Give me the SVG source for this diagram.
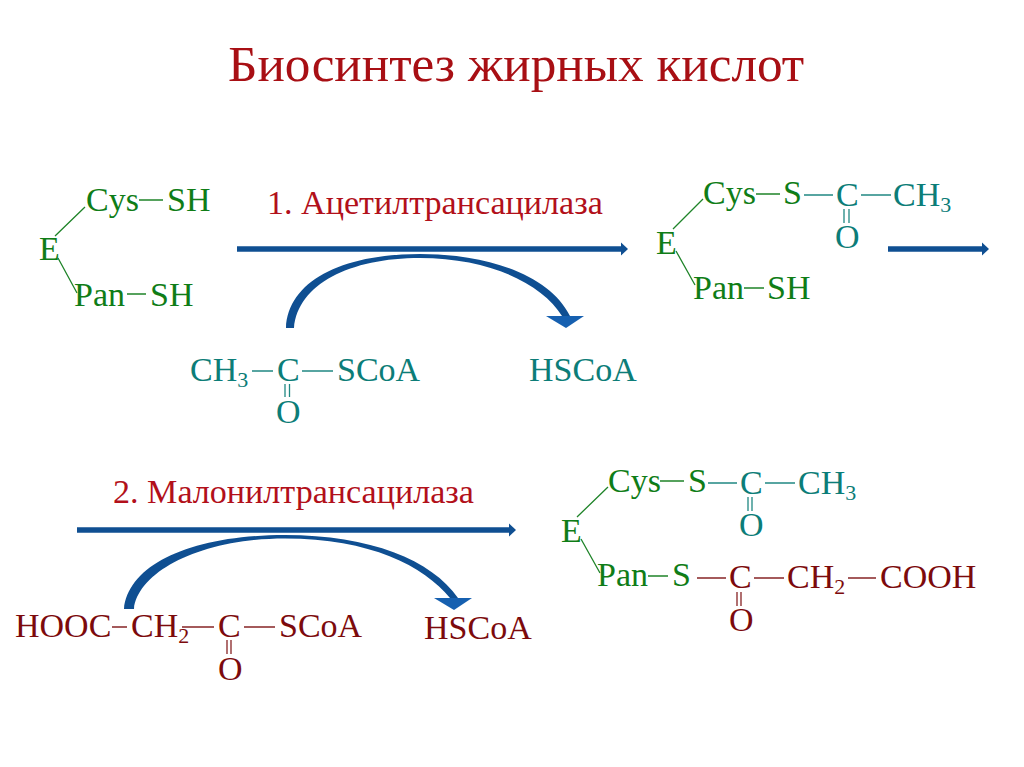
<svg xmlns="http://www.w3.org/2000/svg" width="1024" height="767" viewBox="0 0 1024 767">
<defs>
<marker id="tip" markerUnits="userSpaceOnUse" markerWidth="10" markerHeight="14" refX="1" refY="7" orient="auto"><path d="M1 0.500L8 7L1 13.500Z" fill="#0f4f92"/></marker>
</defs>
<style>
text{font-family:"Liberation Serif","Times New Roman",serif;font-size:34px}
.title{font-size:51.200px;fill:#a80f14}
.lab{font-size:34.100px;fill:#b2101a}
.g{fill:#0f7d17}.t{fill:#0c7d78}.r{fill:#7c0a0c}
.sub{font-size:22px}
.bg,.bt,.br{fill:none;stroke-width:1.300}
.bg{stroke:#1f8429}.bt{stroke:#218883}.br{stroke:#872426}
.arr{fill:none;stroke:#0f4f92;stroke-width:5.500}
.curve{fill:#0f4f92}.head{fill:#1660b0}
</style>
<rect width="1024" height="767" fill="#ffffff"/>
<text class="title" x="228" y="81" id="title">Биосинтез жирных кислот</text>
<text class="lab" x="267" y="214">1. Ацетилтрансацилаза</text>
<text class="lab" x="113" y="503">2. Малонилтрансацилаза</text>

<g id="connectors">
<line class="arr" x1="237" y1="249" x2="621" y2="249" marker-end="url(#tip)"/>
<line class="arr" x1="888" y1="249" x2="982" y2="249" marker-end="url(#tip)"/>
<line class="arr" x1="77" y1="530" x2="509" y2="530" marker-end="url(#tip)"/>
<path class="curve" d="M286 328C288 282 340 254 420 254C490 254 550 276 570 316L562 316C542 284 490 258 420 258C350 258 298 284 294 328Z"/>
<polygon class="head" points="546,316 584,316 566,328"/>
<path class="curve" d="M124 609C128 565 190 535 285 535C370 535 432 560 458 598L450 598C424 566 370 538.500 285 538.500C200 538.500 138 572 134 609Z"/>
<polygon class="head" points="434,598 472,598 454,610"/>
</g>

<g id="enzyme-1">
<text class="g" x="86" y="211">Cys</text><text class="g" x="167" y="211">SH</text>
<text class="g" x="39" y="260">E</text>
<text class="g" x="74" y="306">Pan</text><text class="g" x="150" y="306">SH</text>
<path class="bg" d="M139 200H163M127 294H146M85 207L55 236M58 258L77 293"/>
</g>
<g id="acetyl-coa">
<text class="t" x="190" y="381">CH<tspan class="sub" dy="6">3</tspan></text>
<text class="t" x="277" y="381">C</text><text class="t" x="337" y="381">SCoA</text>
<text class="t" x="276" y="423">O</text>
<path class="bt" d="M252 371H273M302 371H333M285 384V397M289.500 384V397"/>
</g>
<g id="hscoa-1"><text class="t" x="529" y="381">HSCoA</text></g>
<g id="enzyme-2">
<text class="g" x="703" y="204">Cys</text><text class="g" x="783" y="204">S</text>
<text class="g" x="656" y="254">E</text>
<text class="g" x="693" y="299">Pan</text><text class="g" x="767" y="299">SH</text>
<text class="t" x="836" y="206">C</text><text class="t" x="893" y="206">CH<tspan class="sub" dy="6">3</tspan></text>
<text class="t" x="835" y="248">O</text>
<path class="bg" d="M756 194H780M744 288H764M703 199L673 229M676 251L695 285"/>
<path class="bt" d="M804 195H833M861 195H891M844 209V223M849 209V223"/>
</g>
<g id="enzyme-3">
<text class="g" x="608" y="492">Cys</text><text class="g" x="688" y="492">S</text>
<text class="g" x="561" y="542">E</text>
<text class="g" x="597" y="586">Pan</text><text class="g" x="672" y="586">S</text>
<text class="t" x="740" y="494">C</text><text class="t" x="798" y="494">CH<tspan class="sub" dy="6">3</tspan></text>
<text class="t" x="739" y="536">O</text>
<text class="r" x="729" y="588">C</text><text class="r" x="787" y="588">CH<tspan class="sub" dy="6">2</tspan></text>
<text class="r" x="880" y="588">COOH</text>
<text class="r" x="729" y="631">O</text>
<path class="bg" d="M660 481H684M648 576H668M608 487L577 517M581 539L600 573"/>
<path class="bt" d="M708 483H737M765 483H795M748 497V511M752 497V511"/>
<path class="br" d="M697 578H726M754 578H784M848 578H876M737 592V606M741 592V606"/>
</g>
<g id="malonyl-coa">
<text class="r" x="15" y="637">HOOC</text><text class="r" x="131" y="637">CH<tspan class="sub" dy="6">2</tspan></text>
<text class="r" x="218" y="637">C</text><text class="r" x="279" y="637">SCoA</text>
<text class="r" x="218" y="680">O</text>
<path class="br" d="M112 627H127M182 627H214M244 627H275M227 640V654M231 640V654"/>
</g>
<g id="hscoa-2"><text class="r" x="424" y="639">HSCoA</text></g>
</svg>
